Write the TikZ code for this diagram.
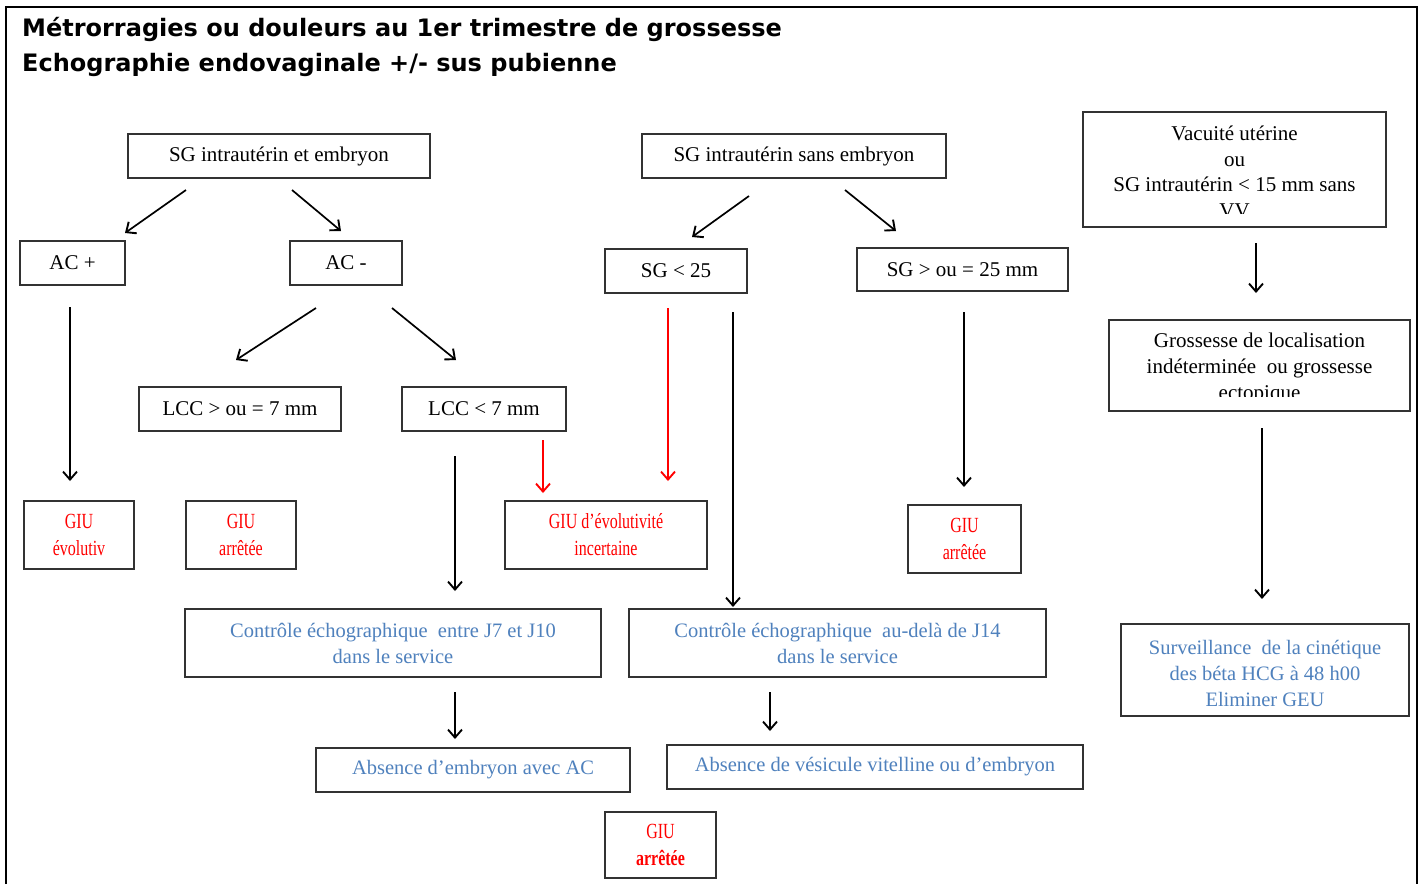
\documentclass[tikz,border=0pt]{standalone}
\usepackage{fontspec}
\usepackage{graphicx}
\setmainfont{Liberation Serif}
\newfontfamily\titlefont{DejaVu Sans}
\usetikzlibrary{arrows.meta}
\definecolor{offblue}{RGB}{79,129,189}
\definecolor{boxline}{RGB}{50,50,50}
\newcommand{\vst}[1]{\scalebox{1}[1.35]{#1}}
\tikzset{
  box/.style={draw=boxline, line width=1.4pt, fill=white, inner sep=0pt, align=center,
     font=\fontsize{21}{26}\selectfont},
  redbox/.style={box, text=red, font=\fontsize{16}{27}\selectfont},
  bluebox/.style={box, text=offblue, font=\fontsize{20.5}{26}\selectfont},
  arr/.style={line width=1.7pt, -{Straight Barb[length=8pt,width=14pt,line width=1.9pt]}},
  redarr/.style={arr, draw=red},
  plain/.style={inner sep=0pt, align=center},
  ttl/.style={anchor=base west, inner sep=0pt, font=\titlefont\bfseries\fontsize{24}{30}\selectfont}
}
\begin{document}
\begin{tikzpicture}[x=1pt,y=-1pt]
\useasboundingbox (0,0) rectangle (1425,884);
\fill[white] (0,0) rectangle (1425,884);
% frame
\draw[line width=2.2pt] (6,884) -- (6,7) -- (1417,7) -- (1417,884);
% title
\node[ttl] (titleA) at (22,36) {Métrorragies ou douleurs au 1er trimestre de grossesse};
\node[ttl] (titleB) at (22,71) {Echographie endovaginale +/- sus pubienne};

% left branch
\node[box, minimum width=302pt, minimum height=44pt] (sgEmb) at (279,156) {SG intrautérin et embryon};
\node[box, minimum width=105pt, minimum height=44pt] (acp) at (72.5,263) {AC +};
\node[box, minimum width=112pt, minimum height=44pt] (acm) at (346,263) {AC -};
\node[box, minimum width=202pt, minimum height=44pt] (lccGe) at (240,409) {LCC > ou = 7 mm};
\node[box, minimum width=164pt, minimum height=44pt] (lccLt) at (484,409) {LCC < 7 mm};
\node[redbox, minimum width=110pt, minimum height=68pt] (giuEvo) at (79,535) {\vst{GIU}\\\vst{évolutiv}};
\node[redbox, minimum width=110pt, minimum height=68pt] (giuArrA) at (241,535) {\vst{GIU}\\\vst{arrêtée}};
\node[redbox, minimum width=202pt, minimum height=68pt] (giuInc) at (606,535) {\vst{GIU d’évolutivité}\\\vst{incertaine}};

% middle branch
\node[box, minimum width=304pt, minimum height=44pt] (sgSans) at (794,156) {SG intrautérin sans embryon};
\node[box, minimum width=142pt, minimum height=44pt] (sgLt) at (676,271) {SG < 25};
\node[box, minimum width=211pt, minimum height=43pt] (sgGe) at (962.5,269.5) {SG > ou = 25 mm};
\node[redbox, minimum width=113pt, minimum height=68pt] (giuArrB) at (964.5,539) {\vst{GIU}\\\vst{arrêtée}};

\node[bluebox, minimum width=416pt, minimum height=68pt] (ctrlA) at (393,643) {Contrôle échographique \ entre J7 et J10\\dans le service};
\node[bluebox, minimum width=417pt, minimum height=68pt] (ctrlB) at (837.5,643) {Contrôle échographique \ au-delà de J14\\dans le service};
\node[bluebox, minimum width=314pt, minimum height=44pt] (absA) at (473,770) {Absence d’embryon avec AC};
\node[bluebox, minimum width=416pt, minimum height=44pt] (absB) at (875,767) {Absence de vésicule vitelline ou d’embryon};
\node[redbox, minimum width=111pt, minimum height=66pt] (giuArrC) at (660.5,845) {\vst{GIU}\\\vst{\bfseries arrêtée}};

% right branch (texts clipped by their boxes)
\node[box, minimum width=303pt, minimum height=115pt] (vac) at (1234.5,169.5) {};
\begin{scope}
\clip (1084,113) rectangle (1385,213);
\node[plain, font=\fontsize{21}{25.5}\selectfont] (vacTxt) at (1234.5,172) {Vacuité utérine\\ou\\SG intrautérin < 15 mm sans\\VV};
\end{scope}
\node[box, minimum width=301pt, minimum height=91pt] (gloc) at (1259.5,365.5) {};
\begin{scope}
\clip (1110,321) rectangle (1409,396);
\node[plain, font=\fontsize{21}{26}\selectfont] (glocTxt) at (1259.5,368) {Grossesse de localisation\\indéterminée \ ou grossesse\\ectopique};
\end{scope}
\node[box, minimum width=288pt, minimum height=92pt] (surv) at (1265,670) {};
\begin{scope}
\clip (1122,625) rectangle (1408,706);
\node[plain, text=offblue, font=\fontsize{20.5}{26}\selectfont] (survTxt) at (1265,673) {Surveillance \ de la cinétique\\des béta HCG à 48 h00\\Eliminer GEU};
\end{scope}

% arrow end points
\coordinate (a1s) at (186,190); \coordinate (a1e) at (125,233);
\coordinate (a2s) at (292,190); \coordinate (a2e) at (341,231);
\coordinate (a3s) at (316,308); \coordinate (a3e) at (236,360);
\coordinate (a4s) at (392,308); \coordinate (a4e) at (456,360);
\coordinate (a5s) at (70,307);  \coordinate (a5e) at (70,481);
\coordinate (a6s) at (455,456); \coordinate (a6e) at (455,591);
\coordinate (a7s) at (543,440); \coordinate (a7e) at (543,493);
\coordinate (a8s) at (668,308); \coordinate (a8e) at (668,481);
\coordinate (a9s) at (733,312); \coordinate (a9e) at (733,607);
\coordinate (b1s) at (749,196); \coordinate (b1e) at (692,237);
\coordinate (b2s) at (845,190); \coordinate (b2e) at (896,231);
\coordinate (b3s) at (964,312); \coordinate (b3e) at (964,487);
\coordinate (c1s) at (1256,243); \coordinate (c1e) at (1256,293);
\coordinate (c2s) at (1262,428); \coordinate (c2e) at (1262,599);
\coordinate (d1s) at (455,692); \coordinate (d1e) at (455,739);
\coordinate (d2s) at (770,692); \coordinate (d2e) at (770,731);

\draw[arr] (a1s) -- (a1e);
\draw[arr] (a2s) -- (a2e);
\draw[arr] (a3s) -- (a3e);
\draw[arr] (a4s) -- (a4e);
\draw[arr] (a5s) -- (a5e);
\draw[arr] (a6s) -- (a6e);
\draw[redarr] (a7s) -- (a7e);
\draw[redarr] (a8s) -- (a8e);
\draw[arr] (a9s) -- (a9e);
\draw[arr] (b1s) -- (b1e);
\draw[arr] (b2s) -- (b2e);
\draw[arr] (b3s) -- (b3e);
\draw[arr] (c1s) -- (c1e);
\draw[arr] (c2s) -- (c2e);
\draw[arr] (d1s) -- (d1e);
\draw[arr] (d2s) -- (d2e);
\end{tikzpicture}
\end{document}
